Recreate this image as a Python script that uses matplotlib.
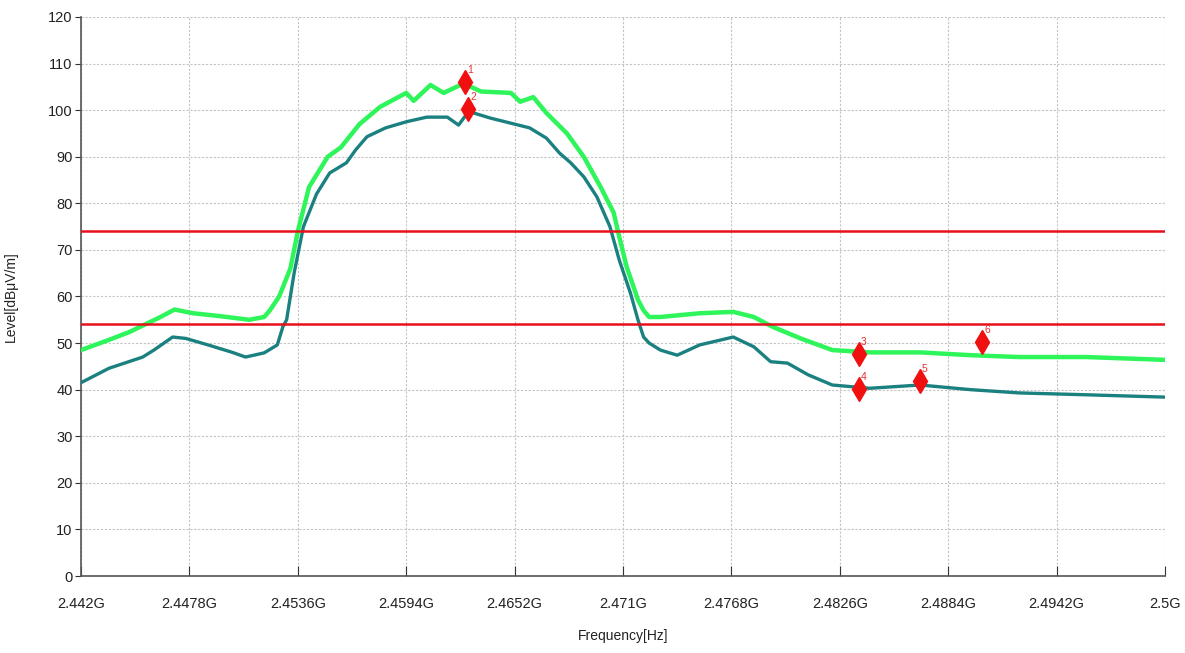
import matplotlib
matplotlib.use("Agg")
import matplotlib.pyplot as plt
import numpy as np

# peak trace (light green), frequency in GHz, level in dBuV/m
peak_freq = [2.4420, 2.4435, 2.4446, 2.4462, 2.4470, 2.4480, 2.4494, 2.4510, 2.4518,
             2.4521, 2.4526, 2.4532, 2.4536, 2.4542, 2.4552, 2.4559, 2.4569, 2.4580,
             2.4594, 2.4598, 2.4607, 2.4614, 2.4623, 2.4626, 2.4634, 2.4650, 2.4655,
             2.4662, 2.4669, 2.4680, 2.4689, 2.4698, 2.4705, 2.4708, 2.4712, 2.4718,
             2.4721, 2.4724, 2.4730, 2.4751, 2.4769, 2.4780, 2.4790, 2.4805, 2.4822,
             2.4842, 2.4869, 2.4896, 2.4922, 2.4958, 2.5000]
peak_level = [48.5, 50.7, 52.4, 55.5, 57.2, 56.4, 55.8, 55.0, 55.6,
              57.0, 60.0, 66.0, 74.0, 83.5, 90.0, 92.0, 97.0, 100.7,
              103.7, 102.0, 105.4, 103.7, 105.4, 105.5, 104.0, 103.7, 101.8,
              102.8, 99.4, 95.0, 90.0, 83.5, 78.0, 72.8, 66.3, 59.3,
              57.0, 55.6, 55.6, 56.4, 56.7, 55.6, 53.5, 51.0, 48.5,
              48.0, 48.0, 47.4, 47.0, 47.0, 46.4]

# average trace (teal)
avg_freq = [2.4420, 2.4435, 2.4453, 2.4459, 2.4469, 2.4476, 2.4488, 2.4501, 2.4508,
            2.4518, 2.4525, 2.4528, 2.4530, 2.4534, 2.4539, 2.4546, 2.4553, 2.4562,
            2.4567, 2.4573, 2.4583, 2.4594, 2.4605, 2.4616, 2.4622, 2.4627, 2.4630,
            2.4639, 2.4650, 2.4660, 2.4669, 2.4676, 2.4682, 2.4689, 2.4696, 2.4703,
            2.4708, 2.4714, 2.4718, 2.4721, 2.4724, 2.4730, 2.4739, 2.4751, 2.4769,
            2.4780, 2.4789, 2.4798, 2.4809, 2.4822, 2.4842, 2.4869, 2.4896, 2.4922,
            2.4958, 2.5000]
avg_level = [41.5, 44.6, 47.0, 48.5, 51.3, 51.0, 49.6, 48.0, 47.0,
             47.9, 49.6, 53.5, 55.0, 65.0, 75.0, 82.0, 86.5, 88.7,
             91.5, 94.3, 96.2, 97.5, 98.5, 98.5, 96.8, 99.5, 99.4,
             98.3, 97.2, 96.2, 94.0, 90.8, 88.7, 85.7, 81.4, 75.0,
             67.8, 60.7, 55.0, 51.3, 50.0, 48.5, 47.4, 49.6, 51.3,
             49.2, 46.0, 45.7, 43.2, 41.0, 40.3, 41.0, 40.0, 39.3,
             38.9, 38.4]

# limit lines
limits = [74, 54]

# markers
marker_ids = ["1", "2", "3", "4", "5", "6"]
marker_freq = [2.46255, 2.46271, 2.48363, 2.48363, 2.48689, 2.49021]
marker_level = [106.0, 100.3, 47.7, 40.1, 41.9, 50.2]

x_ticks = [2.442, 2.4478, 2.4536, 2.4594, 2.4652, 2.471, 2.4768, 2.4826, 2.4884, 2.4942, 2.5]
x_labels = ["2.442G", "2.4478G", "2.4536G", "2.4594G", "2.4652G", "2.471G",
            "2.4768G", "2.4826G", "2.4884G", "2.4942G", "2.5G"]

plt.rcParams['font.family'] = ['Liberation Sans', 'DejaVu Sans']

fig = plt.figure(figsize=(11.85, 6.53), dpi=100)
ax = fig.add_axes([0.0684, 0.1179, 0.9147, 0.8561])

ax.plot(peak_freq, peak_level, color='#2ef55a', lw=3.2, zorder=3)
ax.plot(avg_freq, avg_level, color='#1a8080', lw=2.4, zorder=3)
for lim in limits:
    ax.axhline(lim, color='#e8101a', lw=1.8, zorder=4)

ax.plot(marker_freq, marker_level, linestyle='none', marker='d', markersize=12,
        color='#f01010', zorder=5)
for mid, f, lv in zip(marker_ids, marker_freq, marker_level):
    ax.annotate(mid, (f, lv), xytext=(1.5, 6.5), textcoords='offset points',
                color='#e83030', fontsize=7.5, zorder=6)

ax.set_xlim(2.442, 2.5)
ax.set_ylim(0, 120)
ax.set_xticks(x_ticks)
ax.set_xticklabels(x_labels)
ax.set_yticks(np.arange(0, 121, 10))

ax.grid(True, color='#c4c4c4', linestyle=(0, (2, 1.5)), lw=0.8)
ax.set_axisbelow(True)
for side in ['top', 'right']:
    ax.spines[side].set_visible(False)
for side in ['left', 'bottom']:
    ax.spines[side].set_color('#555555')
    ax.spines[side].set_linewidth(1.2)

ax.tick_params(axis='y', direction='out', length=4, colors='#333333', labelsize=10.5, pad=2)
ax.tick_params(axis='x', direction='in', length=7, colors='#333333', labelsize=10.5, pad=15)
ax.tick_params(axis='x', labelcolor='#222222')
ax.tick_params(axis='y', labelcolor='#222222')

ax.set_xlabel('Frequency[Hz]', fontsize=10, color='#222222')
ax.set_ylabel('Level[dBμV/m]', fontsize=10, color='#222222')
ax.xaxis.set_label_coords(0.5, -0.095)
ax.yaxis.set_label_coords(-0.058, 0.5)

fig.savefig('out.png', dpi=100)
